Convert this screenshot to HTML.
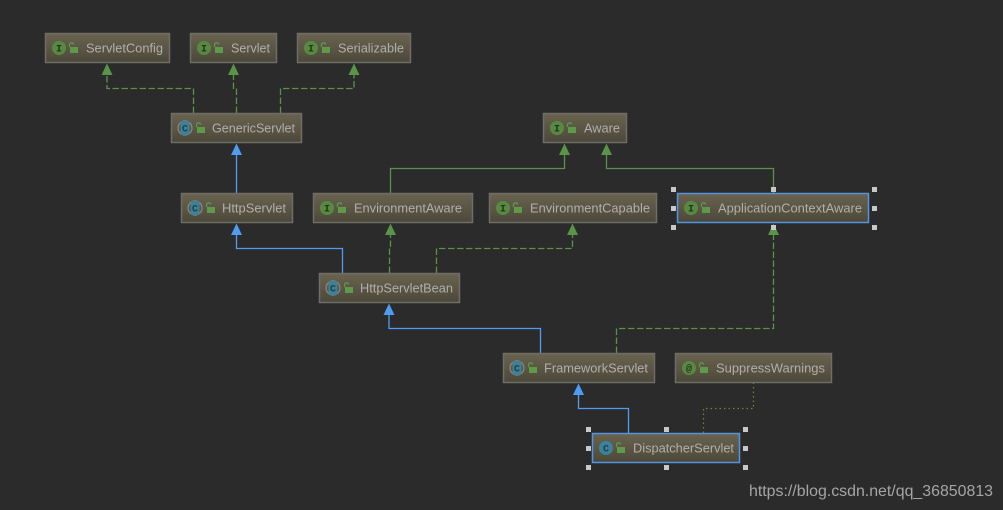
<!DOCTYPE html>
<html><head><meta charset="utf-8"><style>
html,body{margin:0;padding:0;background:#2b2b2b;width:1003px;height:510px;overflow:hidden}
svg{display:block}
text{font-family:"Liberation Sans",sans-serif}
.t{font-size:13px;fill:#b0b0aa;letter-spacing:0}
.ic{font-family:"Liberation Mono",monospace;font-size:10px;font-weight:bold;text-anchor:middle}
.b{fill:url(#g);stroke:#6e6d66;stroke-width:1.5}
.s{fill:url(#g);stroke:#5294e2;stroke-width:1.5}
.e{fill:none;stroke-width:1.3}
.gd{stroke:#59934a;stroke-dasharray:6.5 2.5}
.gs{stroke:#59934a}
.bl{stroke:#4f9cf2}
.ag{fill:#5a9449}
.ab{fill:#4f9cf2}
.h{fill:#c8c8c8}
</style></head><body>
<svg width="1003" height="510" viewBox="0 0 1003 510" xmlns="http://www.w3.org/2000/svg">
<defs>
<linearGradient id="g" x1="0" y1="0" x2="0" y2="1"><stop offset="0" stop-color="#69634f"/><stop offset="1" stop-color="#4c483a"/></linearGradient>
<g id="lock"><rect x="-3" y="-1" width="8" height="6" fill="#5f9a4b"/><path d="M-3.5 -1 V-3 A2.2 2.2 0 0 1 0.8 -3.6" fill="none" stroke="#5f9a4b" stroke-width="1.2"/></g>
<g id="I"><circle r="7" fill="#568b3f"/><text class="ic" y="3.5" fill="#2b2b2b">I</text></g>
<g id="A"><circle r="7" fill="#568b3f"/><text class="ic" y="3.5" fill="#2b2b2b">@</text></g>
<g id="C"><circle r="7" fill="#3c8299"/><text class="ic" y="3.5" fill="#1f3f4c">C</text></g>
<g id="AC"><circle r="7" fill="none" stroke="#8a8a86" stroke-width="1.2"/><rect x="-4.5" y="-7" width="9" height="14" rx="2" fill="#3c8299"/><text class="ic" y="3.5" fill="#1f3f4c">C</text></g>
</defs>
<rect width="1003" height="510" fill="#2b2b2b"/>

<!-- edges -->
<path class="e gd" d="M193.5 113V88.5H107V75"/>
<path class="e gd" d="M236.5 113V88.5H233.5V75"/>
<path class="e gd" d="M280.5 113V88.5H354V75"/>
<path class="e bl" d="M236.5 193V155"/>
<path class="e gs" d="M390.5 193V168.5H564.5V155"/>
<path class="e gs" d="M773.5 193V168.5H606.5V155"/>
<path class="e bl" d="M342.5 273V248.5H236.5V235"/>
<path class="e gd" d="M389.5 273V248.5H390.5V235"/>
<path class="e gd" d="M436.5 273V248.5H572.5V235"/>
<path class="e bl" d="M540.5 353V328.5H389V315"/>
<path class="e gd" d="M616.5 353V328.5H773.5V235"/>
<path class="e bl" d="M628.5 433V408.5H578.5V395"/>
<path d="M703.5 433V408.5H753.5V383" fill="none" stroke="#7f7f2e" stroke-width="1.2" stroke-dasharray="1.5 3"/>

<!-- arrowheads -->
<polygon class="ag" points="107,63.5 101.5,75 112.5,75"/>
<polygon class="ag" points="233.5,63.5 228,75 239,75"/>
<polygon class="ag" points="354,63.5 348.5,75 359.5,75"/>
<polygon class="ab" points="236.5,143.5 231,155 242,155"/>
<polygon class="ag" points="564.5,143.5 559,155 570,155"/>
<polygon class="ag" points="606.5,143.5 601,155 612,155"/>
<polygon class="ab" points="236.5,223.5 231,235 242,235"/>
<polygon class="ag" points="390.5,223.5 385,235 396,235"/>
<polygon class="ag" points="572.5,223.5 567,235 578,235"/>
<polygon class="ag" points="773.5,223.5 768,235 779,235"/>
<polygon class="ab" points="389,303.5 383.5,315 394.5,315"/>
<polygon class="ab" points="578.5,383.5 573,395 584,395"/>

<!-- nodes -->
<rect class="b" x="45.5" y="33.5" width="124" height="29"/>
<use href="#I" x="59" y="48"/><use href="#lock" x="73" y="48"/>
<text class="t" x="86" y="52.5" textLength="77" lengthAdjust="spacingAndGlyphs">ServletConfig</text>

<rect class="b" x="190.5" y="33.5" width="86" height="29"/>
<use href="#I" x="204" y="48"/><use href="#lock" x="218" y="48"/>
<text class="t" x="231" y="52.5" textLength="39" lengthAdjust="spacingAndGlyphs">Servlet</text>

<rect class="b" x="297.5" y="33.5" width="113" height="29"/>
<use href="#I" x="311" y="48"/><use href="#lock" x="325" y="48"/>
<text class="t" x="338" y="52.5" textLength="66" lengthAdjust="spacingAndGlyphs">Serializable</text>

<rect class="b" x="171.5" y="113.5" width="130" height="29"/>
<use href="#AC" x="185" y="128"/><use href="#lock" x="200" y="128"/>
<text class="t" x="212" y="132.5" textLength="83" lengthAdjust="spacingAndGlyphs">GenericServlet</text>

<rect class="b" x="543.5" y="113.5" width="83" height="29"/>
<use href="#I" x="557" y="128"/><use href="#lock" x="571" y="128"/>
<text class="t" x="584" y="132.5" textLength="36" lengthAdjust="spacingAndGlyphs">Aware</text>

<rect class="b" x="181.5" y="193.5" width="111" height="29"/>
<use href="#AC" x="195" y="208"/><use href="#lock" x="210" y="208"/>
<text class="t" x="222" y="212.5" textLength="64" lengthAdjust="spacingAndGlyphs">HttpServlet</text>

<rect class="b" x="313.5" y="193.5" width="159" height="29"/>
<use href="#I" x="327" y="208"/><use href="#lock" x="341" y="208"/>
<text class="t" x="354" y="212.5" textLength="108" lengthAdjust="spacingAndGlyphs">EnvironmentAware</text>

<rect class="b" x="489.5" y="193.5" width="167" height="29"/>
<use href="#I" x="503" y="208"/><use href="#lock" x="517" y="208"/>
<text class="t" x="530" y="212.5" textLength="120" lengthAdjust="spacingAndGlyphs">EnvironmentCapable</text>

<rect class="s" x="677.5" y="193.5" width="191" height="29"/>
<use href="#I" x="691" y="208"/><use href="#lock" x="705" y="208"/>
<text class="t" x="718" y="212.5" textLength="144" lengthAdjust="spacingAndGlyphs">ApplicationContextAware</text>

<rect class="b" x="319.5" y="273.5" width="140" height="29"/>
<use href="#AC" x="333" y="288"/><use href="#lock" x="348" y="288"/>
<text class="t" x="360" y="292.5" textLength="93" lengthAdjust="spacingAndGlyphs">HttpServletBean</text>

<rect class="b" x="503.5" y="353.5" width="151" height="29"/>
<use href="#AC" x="517" y="368"/><use href="#lock" x="532" y="368"/>
<text class="t" x="544" y="372.5" textLength="104" lengthAdjust="spacingAndGlyphs">FrameworkServlet</text>

<rect class="b" x="675.5" y="353.5" width="156" height="29"/>
<use href="#A" x="689" y="368"/><use href="#lock" x="703" y="368"/>
<text class="t" x="716" y="372.5" textLength="109" lengthAdjust="spacingAndGlyphs">SuppressWarnings</text>

<rect class="s" x="592.5" y="433.5" width="147" height="29"/>
<use href="#C" x="606" y="448"/><use href="#lock" x="620" y="448"/>
<text class="t" x="633" y="452.5" textLength="101" lengthAdjust="spacingAndGlyphs">DispatcherServlet</text>

<!-- selection handles -->
<g class="h">
<rect x="671" y="187" width="5" height="5"/><rect x="771" y="187" width="5" height="5"/><rect x="872" y="187" width="5" height="5"/>
<rect x="671" y="206" width="5" height="5"/><rect x="872" y="206" width="5" height="5"/>
<rect x="671" y="225" width="5" height="5"/><rect x="771" y="225" width="5" height="5"/><rect x="872" y="225" width="5" height="5"/>
<rect x="586" y="427" width="5" height="5"/><rect x="664" y="427" width="5" height="5"/><rect x="743" y="427" width="5" height="5"/>
<rect x="586" y="446" width="5" height="5"/><rect x="743" y="446" width="5" height="5"/>
<rect x="586" y="465" width="5" height="5"/><rect x="664" y="465" width="5" height="5"/><rect x="743" y="465" width="5" height="5"/>
</g>

<text x="749" y="496" font-size="16" fill="#a5a5a5" textLength="244" lengthAdjust="spacingAndGlyphs">https://blog.csdn.net/qq_36850813</text>
</svg>
</body></html>
